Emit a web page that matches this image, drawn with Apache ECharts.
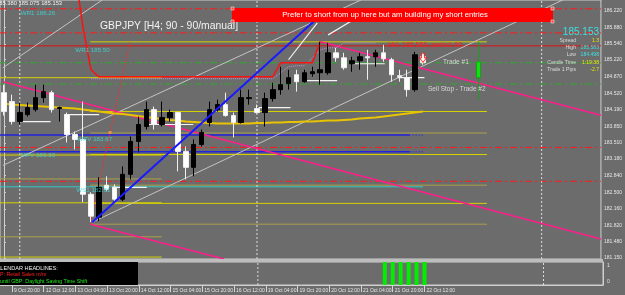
<!DOCTYPE html>
<html><head><meta charset="utf-8">
<script src="https://cdn.jsdelivr.net/npm/echarts@6/dist/echarts.min.js"></script>
<style>html,body{margin:0;padding:0;background:#6c6c6c;overflow:hidden}#c{width:625px;height:295px}</style>
</head><body><div id="c"></div>
<script>
// ---------- DATA ----------
const categories = [
 "9 Oct 16:00","9 Oct 20:00",
 "12 Oct 00:00","12 Oct 04:00","12 Oct 08:00","12 Oct 12:00","12 Oct 16:00","12 Oct 20:00",
 "13 Oct 00:00","13 Oct 04:00","13 Oct 08:00","13 Oct 12:00","13 Oct 16:00","13 Oct 20:00",
 "14 Oct 00:00","14 Oct 04:00","14 Oct 08:00","14 Oct 12:00","14 Oct 16:00","14 Oct 20:00",
 "15 Oct 00:00","15 Oct 04:00","15 Oct 08:00","15 Oct 12:00","15 Oct 16:00","15 Oct 20:00",
 "16 Oct 00:00","16 Oct 04:00","16 Oct 08:00","16 Oct 12:00","16 Oct 16:00","16 Oct 20:00",
 "19 Oct 00:00","19 Oct 04:00","19 Oct 08:00","19 Oct 12:00","19 Oct 16:00","19 Oct 20:00",
 "20 Oct 00:00","20 Oct 04:00","20 Oct 08:00","20 Oct 12:00","20 Oct 16:00","20 Oct 20:00",
 "21 Oct 00:00","21 Oct 04:00","21 Oct 08:00","21 Oct 12:00","21 Oct 16:00","21 Oct 20:00",
 "22 Oct 00:00","22 Oct 04:00","22 Oct 08:00","22 Oct 12:00","22 Oct 16:00","22 Oct 20:00",
 "23 Oct 00:00","23 Oct 04:00","23 Oct 08:00","23 Oct 12:00","23 Oct 16:00","23 Oct 20:00",
 "26 Oct 00:00","26 Oct 04:00","26 Oct 08:00","26 Oct 12:00","26 Oct 16:00","26 Oct 20:00",
 "27 Oct 00:00","27 Oct 04:00","27 Oct 08:00","27 Oct 12:00","27 Oct 16:00","27 Oct 20:00",
 "28 Oct 00:00","28 Oct 04:00"
];
// [open, close, low, high]
const candles = [
 [184.540,184.152,184.071,184.704],[184.357,183.948,183.887,184.500],[183.948,184.132,183.887,184.336],
 [184.091,184.234,184.050,184.336],[184.193,184.438,184.152,184.704],[184.438,184.561,184.336,184.704],
 [184.540,184.193,184.132,184.581],[184.214,184.234,183.948,184.255],[184.091,183.683,183.519,184.132],
 [183.683,183.581,183.376,183.744],[183.581,182.457,182.294,184.357],[182.457,182.008,181.885,182.498],
 [181.987,182.600,181.906,182.805],[182.641,182.560,182.518,182.825],[182.600,182.355,182.314,182.662],
 [182.355,182.866,182.314,183.029],[182.866,183.540,182.764,183.642],[183.540,183.887,183.315,184.050],
 [183.846,184.193,183.785,184.357],[184.193,183.887,183.785,184.255],[183.887,184.030,183.846,184.357],
 [184.030,184.132,183.948,184.193],[184.132,183.335,182.927,184.152],[183.335,183.009,182.764,183.438],
 [183.009,183.478,182.825,183.581],[183.478,183.724,183.438,183.785],[183.928,184.193,183.846,184.357],
 [184.193,184.295,184.152,184.398],[184.295,184.071,184.050,184.540],[184.071,183.928,183.622,184.132],
 [183.928,184.438,183.907,184.602],[184.418,184.438,184.295,184.602],[184.214,184.132,184.112,184.295],
 [184.132,184.418,183.846,184.540],[184.418,184.602,184.357,184.745],[184.602,184.704,184.500,185.072],
 [184.724,184.847,184.602,185.010],[184.908,184.765,184.561,185.010],[184.765,184.949,184.745,185.010],
 [184.929,184.969,184.867,185.072],[184.949,185.010,184.704,185.582],[184.949,185.357,184.908,185.562],
 [185.357,185.255,185.174,185.460],[185.255,185.051,185.010,185.357],[185.133,185.194,184.969,185.276],
 [185.194,185.276,185.010,185.357],[185.276,185.255,184.806,185.419],[185.276,185.357,185.072,185.419],
 [185.357,185.235,185.174,185.521],[185.215,184.908,184.765,185.255],[184.888,184.867,184.765,185.010],
 [184.847,184.602,184.459,185.010],[184.602,185.317,184.561,185.378],[185.276,185.153,185.112,185.357]
];
const maValues = [
 184.316,184.295,184.285,184.275,184.265,184.255,184.244,184.234,184.224,184.214,
 184.193,184.173,184.152,184.132,184.112,184.101,184.081,184.060,184.040,184.020,
 183.999,183.979,183.969,183.948,183.938,183.928,183.918,183.907,183.907,183.907,
 183.907,183.907,183.918,183.918,183.928,183.928,183.938,183.938,183.948,183.948,
 183.958,183.969,183.969,183.979,183.989,184.010,184.020,184.030,184.050,184.071,
 184.091,184.112,184.132,184.152
];
const redStepStart = 9;
const redStepValues = [187.01,185.87,185.01,
 184.867,184.867,184.867,184.867,184.867,184.867,184.867,184.867,184.867,184.867,184.867,184.867,
 184.867,184.867,184.867,184.867,184.867,184.867,184.867,184.867,184.867,184.867,184.867,
 185.153,185.153,185.153,185.153,185.153,185.582];
const redStepMarkerBars = [35, 40];
const purpleStart = 11;
const purpleValues = [
 184.826,184.826,184.826,184.826,184.826,184.826,184.826,184.826,184.826,184.826,184.826,184.826,
 184.826,184.826,184.826,184.826,184.826,184.826,184.826,184.826,184.826,184.826,184.826,184.826,
 184.949,185.072,185.092,185.092,185.255,185.419,185.460,185.460,185.562,185.562,185.562,185.562,185.562];
const projectedBar = 60;
const projectedCandle = [185.174,184.847,184.398,185.582];
const currentBar = 53;
const currentPrice = 185.153;
const sellArrowPrice = 185.255;
const fibAnchorMarker = [13.42, 183.724];

const priceTicks = [181.150,181.480,181.820,182.160,182.500,182.840,183.180,183.510,183.850,184.190,184.520,184.870,185.220,185.540,185.880,186.220];
const priceMin = 181.13, priceMax = 186.44;

const redDashLevels = [186.26, 185.766, 183.417, 182.723];
const redSolidLevels = [185.50];
const greenDashLevels = [185.153, 184.718];
const bluePivotLevels = [183.67, 183.33];
const cyanPivotLevels = [182.61];
const pivotSolidEndBar = 51.3;
const pivotEndBar = 53;

const pivotTexts = [
 [2.13, 186.17, "WR1 186.26"],
 [9.03, 185.419, "WR1 185.50"],
 [9.28, 183.58, "WPV 183.67"],
 [2.13, 183.254, "MPV 183.33"],
 [9.15, 182.539, "WS1 182.61"]
];

const fib1Levels = [0, 38.2, 50, 61.8, 78.6, 88.6, 100];
const fib1High = 185.582, fib1Low = 181.844;
const fib1Bars = [10.91, 61.08];
const fib2Levels = [0, 38.2, 50, 61.8, 78.6, 88.6];
const fib2High = 184.847, fib2Low = 180.697;
const fib2Bars = [-0.5, 19.94];

const blueTrend = [[11.16, 181.885], [39.38, 186.03]];
const grayLines = [
 [[11.16, 181.885], [71.99, 186.542]],
 [[-0.12, 183.05], [45.15, 186.44]],
 [[-0.12, 185.051], [12.42, 186.44]]
];
const pinkLines = [
 [[40.01, 185.582], [75.5, 184.079]],
 [[-0.12, 184.765], [75.5, 181.538]],
 [[10.91, 181.844], [27.84, 181.13]]
];
const fibDiagonal = [[10.91, 181.844], [15.93, 185.582]];
const whiteArrows = [
 [[35.99, 185.215], [39.63, 185.97]],
 [[41.01, 185.725], [44.15, 186.031]]
];
// [fromBar, toBar, price]
const levelSegments = [
 [2.01, 5.9, 183.948], [7.65, 12.04, 184.091], [13.67, 18.06, 182.600], [18.31, 23.95, 183.887],
 [32.23, 36.24, 184.234], [38.13, 42.14, 184.786], [44.15, 48.16, 185.133], [49.79, 53.18, 184.847]
];
const separatorBars = [2, 32, 68];
const signalBars = [48, 49, 50, 51, 52, 53];

const infoRows = [["Spread","1.3"],["High","185.583"],["Low","184.498"],["Candle Time","1:19:38"],["Trade 1 Pips","-2.7"]];
const calendarLines = ["CALENDAR HEADLINES:", "GBP: Retail Sales m/m", "until GBP: Daylight Saving Time Shift"];

// ---------- BUILD ----------
const N = categories.length;
const FONT = 'Liberation Sans';
const series = [];
function seg(pts, color, width, type, z) {
  series.push({type:'line', xAxisIndex:2, yAxisIndex:0, data:pts, symbol:'none', silent:true,
    lineStyle:{color:color, width:width, type:type}, z:z, clip:true});
}
const DASHDOT = [7,3,2,3];
redDashLevels.forEach(p => seg([[-0.5,p],[N-0.5,p]], '#ff1a1a', 1, DASHDOT, 1));
redSolidLevels.forEach(p => seg([[-0.5,p],[N-0.5,p]], '#e01010', 1, 'solid', 1));
greenDashLevels.forEach(p => seg([[-0.5,p],[N-0.5,p]], '#2faa2f', 1, DASHDOT, 1));
bluePivotLevels.forEach(p => { seg([[-0.5,p],[pivotSolidEndBar,p]], '#2222dd', 1.5, 'solid', 1);
  seg([[pivotSolidEndBar,p],[pivotEndBar,p]], '#2a2aee', 1.5, [1,2], 1); });
cyanPivotLevels.forEach(p => seg([[-0.5,p],[pivotEndBar,p]], '#35c8c8', 1, 'solid', 1));

const fibColors = ['#d6d200','#d6d200','#aaa14a','#d6d200','#aaa14a','#d6d200','#aaa14a'];
function fib(levels, hi, lo, bars) {
  levels.forEach((lv, k) => {
    const p = hi - lv/100*(hi-lo);
    series.push({type:'line', xAxisIndex:2, yAxisIndex:0, symbol:'none', silent:true, z:1,
      lineStyle:{color:fibColors[k], width:1},
      data:[[bars[0],p], {value:[bars[1],p], label:{show:true, position:'left', distance:0, offset:[0,-4],
        formatter: lv.toFixed(1), color:'#e0dc20', fontSize:5.5, fontFamily:FONT}}]});
  });
}
fib(fib1Levels, fib1High, fib1Low, fib1Bars);
fib(fib2Levels, fib2High, fib2Low, fib2Bars);

grayLines.forEach(l => seg(l, '#c4c4c4', 1, 'solid', 1));
pinkLines.forEach(l => seg(l, '#ff1e8c', 1.5, 'solid', 2));
seg(fibDiagonal, '#ff2a2a', 1, 'dotted', 2);
levelSegments.forEach(s => seg([[s[0],s[2]],[s[1],s[2]]], '#f4f4f4', 1.2, 'solid', 3));
whiteArrows.forEach(l => seg(l, '#f4f4f4', 1.2, 'solid', 5));
seg(blueTrend, '#1a1aff', 2, 'solid', 5);
separatorBars.forEach(b => seg([[b,priceMin],[b,priceMax]], '#dcdcdc', 1, [2,2], 1));
series.push({type:'scatter', xAxisIndex:2, yAxisIndex:0, silent:true, z:5, data:[fibAnchorMarker],
  symbol:'rect', symbolSize:3, itemStyle:{color:'#ff9a40'}});

// moving average
series.push({type:'line', xAxisIndex:0, yAxisIndex:0, data:maValues, symbol:'none', silent:true,
  lineStyle:{color:'#e8c400', width:2}, z:2});
// purple dotted highs
const purpleData = new Array(N).fill(null);
purpleValues.forEach((v,k)=> purpleData[purpleStart+k] = v);
series.push({type:'line', xAxisIndex:0, yAxisIndex:0, data:purpleData, symbol:'none', silent:true,
  lineStyle:{color:'#c890d8', width:1, type:'dotted'}, z:2});
// red step
const redData = new Array(N).fill(null);
redStepValues.forEach((v,k)=>{
  const i = redStepStart+k;
  redData[i] = redStepMarkerBars.includes(i) ? {value:v, symbol:'rect', symbolSize:6} : v;
});
series.push({type:'line', xAxisIndex:0, yAxisIndex:0, data:redData, symbol:'none', showSymbol:true, silent:true,
  lineStyle:{color:'#ff1010', width:1.5}, itemStyle:{color:'#ff0000'}, z:3});

// candles
series.push({type:'candlestick', xAxisIndex:0, yAxisIndex:0, data:candles, barWidth:5, z:4, silent:true,
  itemStyle:{color:'#000000', color0:'#ffffff', borderColor:'#000000', borderColor0:'#f0f0f0', borderWidth:1},
  markLine:{silent:true, symbol:'none', animation:false, data:[{yAxis:currentPrice}], lineStyle:{opacity:0},
    label:{show:true, position:'end', formatter: currentPrice.toFixed(3), backgroundColor:'#dedede', color:'#000',
      fontSize:5, fontFamily:FONT, padding:[1,3,1,2], distance:1}}});
// projected green bar
const projData = new Array(N).fill('-');
projData[projectedBar] = projectedCandle;
series.push({type:'candlestick', xAxisIndex:0, yAxisIndex:0, data:projData, barWidth:4, z:4, silent:true,
  itemStyle:{color:'#10e010', color0:'#10e010', borderColor:'#18a018', borderColor0:'#18a018', borderWidth:1}});
// sell arrow at current bar
series.push({type:'scatter', xAxisIndex:0, yAxisIndex:0, silent:true, z:6,
  data:[[currentBar, sellArrowPrice]],
  symbol:'path://M3,0 L7,0 L7,5 L10,5 L5,10 L0,5 L3,5 Z', symbolSize:[7,9],
  itemStyle:{color:'#ffffff', borderColor:'#ff0000', borderWidth:1}});
// pivot labels
series.push({type:'scatter', xAxisIndex:2, yAxisIndex:0, silent:true, z:6, symbolSize:0,
  data:pivotTexts.map(t=>({value:[t[0],t[1]], name:t[2]})),
  label:{show:true, position:'right', distance:0, formatter:'{b}', color:'#3ee0e0', fontSize:6.2, fontFamily:FONT}});

// sub panel
series.push({type:'bar', xAxisIndex:1, yAxisIndex:1, barWidth:4, silent:true, z:2,
  data:categories.map((c,i)=> signalBars.includes(i) ? 1 : null), itemStyle:{color:'#00ee00'}});
separatorBars.forEach(b => series.push({type:'line', xAxisIndex:1, yAxisIndex:1, data:[[b,0],[b,1]], symbol:'none', silent:true,
  lineStyle:{color:'#dcdcdc', width:1, type:[2,2]}, z:1}));

const labelShown = i => i>=1 && i<=currentBar && (i-1)%4===0;

const graphics = [
  {type:'rect', shape:{x:0,y:259,width:603,height:3}, style:{fill:'#bdbdbd'}, z:10},
  {type:'text', x:-4, y:0, style:{text:'185.380 185.075 185.153', fill:'#f0f0f0', font:'5.8px '+FONT}, z:10},
  {type:'text', x:100, y:21, style:{text:'GBPJPY [H4; 90 - 90/manual]', fill:'#f2f2f2', font:'10.4px '+FONT}, z:10},
  {type:'rect', shape:{x:232,y:8,width:321,height:14}, style:{fill:'#ff0000'}, z:10},
  {type:'text', x:385, y:15, style:{text:'Prefer to short from up here but am building my short entries', fill:'#ffffff',
    font:'7.7px '+FONT, align:'center', verticalAlign:'middle'}, z:11},
  {type:'rect', shape:{x:231,y:7,width:3,height:3}, style:{fill:'#ff4040', stroke:'#eeeeee', lineWidth:0.6}, z:11},
  {type:'rect', shape:{x:231,y:20,width:3,height:3}, style:{fill:'#ff4040', stroke:'#eeeeee', lineWidth:0.6}, z:11},
  {type:'rect', shape:{x:551,y:7,width:3,height:3}, style:{fill:'#ff4040', stroke:'#eeeeee', lineWidth:0.6}, z:11},
  {type:'rect', shape:{x:551,y:20,width:3,height:3}, style:{fill:'#ff4040', stroke:'#eeeeee', lineWidth:0.6}, z:11},
  {type:'text', x:388, y:45, style:{text:'HH: 185.589, period: 90', fill:'#ff2020', font:'7px '+FONT, verticalAlign:'middle'}, z:10},
  {type:'text', x:443, y:62, style:{text:'Trade #1', fill:'#d8d8d8', font:'6.5px '+FONT, verticalAlign:'middle'}, z:10},
  {type:'text', x:428, y:89, style:{text:'Sell Stop - Trade #2', fill:'#d8d8d8', font:'6.5px '+FONT, verticalAlign:'middle'}, z:10},
  {type:'text', x:599, y:32, style:{text:currentPrice.toFixed(3), fill:'#3ee0e0', font:'10px '+FONT, align:'right', verticalAlign:'middle'}, z:10},
  {type:'rect', shape:{x:0,y:262,width:138,height:23}, style:{fill:'#000000'}, z:10},
  {type:'text', x:-7.4, y:268, style:{text:calendarLines[0], fill:'#f0f0f0', font:'5.6px '+FONT, verticalAlign:'middle'}, z:11},
  {type:'text', x:-7.7, y:275, style:{text:calendarLines[1], fill:'#ff2020', font:'5.3px '+FONT, verticalAlign:'middle'}, z:11},
  {type:'text', x:0, y:282, style:{text:calendarLines[2], fill:'#20ee20', font:'5.3px '+FONT, verticalAlign:'middle'}, z:11}
];
const infoY = [41, 48, 55, 63, 70];
const infoValColors = ['#e8e800','#3ee0e0','#3ee0e0','#e8e800','#e8e800'];
infoRows.forEach((r,k)=>{
  graphics.push({type:'text', x:576, y:infoY[k], style:{text:r[0], fill:'#dcdcdc', font:'5.1px '+FONT, align:'right', verticalAlign:'middle'}, z:10});
  graphics.push({type:'text', x:599, y:infoY[k], style:{text:r[1], fill:infoValColors[k], font:'5.1px '+FONT, align:'right', verticalAlign:'middle'}, z:10});
});

const chart = echarts.init(document.getElementById('c'), null, {renderer:'canvas'});
chart.setOption({
  backgroundColor:'#6c6c6c',
  animation:false,
  grid:[
    {left:-3, right:22, top:0, height:259, show:true, borderColor:'#cfcfcf', borderWidth:1, backgroundColor:'transparent'},
    {left:-3, right:22, top:262, height:23, show:true, borderColor:'#cfcfcf', borderWidth:1, backgroundColor:'transparent'}
  ],
  xAxis:[
    {type:'category', gridIndex:0, data:categories, boundaryGap:true, axisLine:{show:false}, axisTick:{show:false}, axisLabel:{show:false}, splitLine:{show:false}},
    {type:'category', gridIndex:1, data:categories, boundaryGap:true,
      axisLine:{show:true, lineStyle:{color:'#cfcfcf'}},
      axisTick:{show:true, interval:(i)=>labelShown(i), alignWithLabel:true, length:7, lineStyle:{color:'#d4d4d4'}},
      axisLabel:{interval:(i)=>labelShown(i), align:'left', color:'#e6e6e6', fontSize:5, fontFamily:FONT, margin:3, padding:[0,0,0,2]},
      splitLine:{show:false}},
    {type:'value', gridIndex:0, min:-0.5, max:N-0.5, show:false, splitLine:{show:false}}
  ],
  yAxis:[
    {type:'value', gridIndex:0, position:'right', min:priceMin, max:priceMax, splitLine:{show:false},
      axisLine:{show:true, lineStyle:{color:'#cfcfcf'}},
      axisTick:{show:true, length:2, customValues:priceTicks, lineStyle:{color:'#cfcfcf'}},
      axisLabel:{customValues:priceTicks, formatter:(v)=>v.toFixed(3), color:'#e6e6e6', fontSize:5, fontFamily:FONT, margin:3}},
    {type:'value', gridIndex:1, position:'right', min:0, max:1, splitLine:{show:false},
      axisLine:{show:true, lineStyle:{color:'#cfcfcf'}},
      axisTick:{show:false},
      axisLabel:{customValues:[0,1], color:'#e6e6e6', fontSize:5, fontFamily:FONT, margin:4,
        formatter:(v)=> v>0.5 ? '{t|1}' : '{b|0}',
        rich:{t:{padding:[7,0,0,0], fontSize:5, color:'#e6e6e6'}, b:{padding:[0,0,7,0], fontSize:5, color:'#e6e6e6'}}}}
  ],
  series: series,
  graphic: graphics
});
</script>
</body></html>
